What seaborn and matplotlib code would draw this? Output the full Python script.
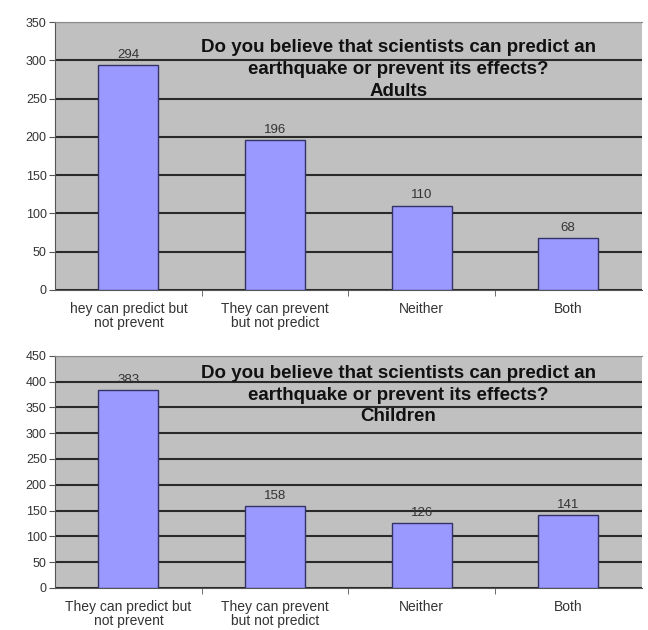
import matplotlib
matplotlib.use("Agg")
import matplotlib.pyplot as plt
import seaborn as sns
import pandas as pd

# data
adult_labels = ["hey can predict but\nnot prevent", "They can prevent\nbut not predict", "Neither", "Both"]
adult_counts = [294, 196, 110, 68]
child_labels = ["They can predict but\nnot prevent", "They can prevent\nbut not predict", "Neither", "Both"]
child_counts = [383, 158, 126, 141]
question = "Do you believe that scientists can predict an\nearthquake or prevent its effects?"

sns.set_style("white")
plt.rcParams['font.family'] = ['Liberation Sans', 'DejaVu Sans']

fig = plt.figure(figsize=(6.48, 6.3), dpi=100)
ax1 = fig.add_axes([0.085, 0.540, 0.905, 0.425])
ax2 = fig.add_axes([0.085, 0.067, 0.905, 0.368])


def draw(ax, labels, counts, group, ymax, title_y):
    df = pd.DataFrame({"answer": labels, "count": counts})
    sns.barplot(data=df, x="answer", y="count", color="#9999ff", edgecolor="#333366",
                linewidth=1.0, width=0.41, saturation=1, ax=ax, zorder=3)
    ax.set_facecolor("#c0c0c0")
    ax.set_ylim(0, ymax)
    ax.set_xlim(-0.5, 3.5)
    ax.set_yticks(range(0, ymax + 1, 50))
    ax.yaxis.grid(True, color="#2a2a2a", linewidth=1.5, zorder=0)
    ax.set_axisbelow(True)
    ax.spines["right"].set_visible(False)
    ax.spines["top"].set_color("#8a8a8a")
    ax.spines["left"].set_color("#555555")
    ax.spines["bottom"].set_color("#555555")
    ax.tick_params(axis="y", length=4, color="#555555", labelsize=9, labelcolor="#333333", pad=2, left=True)
    ax.tick_params(axis="x", which="major", length=0, labelsize=10, labelcolor="#333333", pad=9)
    for t in ax.get_xticklabels():
        t.set_linespacing(0.95)
    ax.set_xticks([0.5, 1.5, 2.5], minor=True)
    ax.tick_params(axis="x", which="minor", length=4, color="#555555", bottom=True)
    ax.set_xlabel("")
    ax.set_ylabel("")
    ax.bar_label(ax.containers[0], padding=3, fontsize=9.5, color="#333333")
    ax.text(0.585, title_y, question + "\n" + group, transform=ax.transAxes, ha="center", va="top",
            fontsize=13.5, fontweight="bold", color="#111111", linespacing=1.35)


draw(ax1, adult_labels, adult_counts, "Adults", 350, 0.935)
draw(ax2, child_labels, child_counts, "Children", 450, 0.96)

fig.savefig("out.png", dpi=100, facecolor="white")
